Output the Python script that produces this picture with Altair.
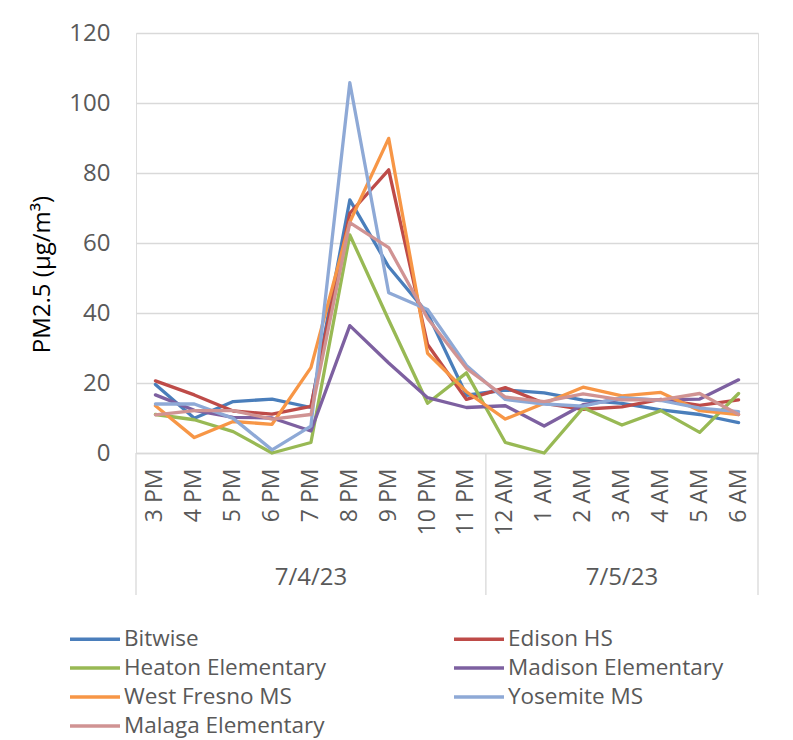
import altair as alt
import pandas as pd

times = ["3 PM", "4 PM", "5 PM", "6 PM", "7 PM", "8 PM", "9 PM", "10 PM", "11 PM",
         "12 AM", "1 AM", "2 AM", "3 AM", "4 AM", "5 AM", "6 AM"]
dates = ["7/4/23"] * 9 + ["7/5/23"] * 7

series = ["Bitwise", "Edison HS", "Heaton Elementary", "Madison Elementary",
          "West Fresno MS", "Yosemite MS", "Malaga Elementary"]
colors = ["#4A7EBB", "#BE4B48", "#98B954", "#7D60A0", "#F79646", "#8EA9D6", "#D09393"]

bitwise = [19.6, 9.9, 14.7, 15.4, 13.0, 72.3, 53.2, 39.9, 16.5, 18.0, 17.2, 15.1, 14.2, 12.3, 11.0, 8.7]
edison = [20.6, 16.6, 12.0, 11.1, 13.3, 68.5, 80.9, 31.0, 15.3, 18.7, 14.2, 12.5, 13.2, 15.3, 13.6, 15.2]
heaton = [11.0, 9.5, 6.1, 0.0, 3.0, 62.3, 38.0, 14.2, 22.9, 3.0, 0.0, 12.9, 8.0, 12.1, 5.9, 17.0]
madison = [16.6, 12.2, 10.2, 10.0, 6.3, 36.4, 25.7, 15.8, 13.0, 13.5, 7.7, 13.8, 15.5, 15.2, 15.4, 20.9]
westfresno = [13.5, 4.4, 9.0, 8.2, 24.4, 66.0, 89.9, 28.5, 17.5, 9.7, 14.2, 18.8, 16.3, 17.3, 12.1, 11.0]
yosemite = [14.0, 14.0, 9.9, 0.9, 7.7, 105.8, 45.8, 41.0, 25.0, 15.3, 14.0, 13.4, 15.8, 15.0, 12.8, 11.8]
malaga = [10.9, 12.1, 12.1, 9.7, 11.0, 65.8, 58.7, 38.5, 24.2, 16.0, 14.7, 16.9, 15.2, 15.2, 17.0, 11.0]

y_ticks = [0, 20, 40, 60, 80, 100, 120]

values = dict(zip(series, [bitwise, edison, heaton, madison, westfresno, yosemite, malaga]))
rows = []
for s in series:
    for t, v in zip(times, values[s]):
        rows.append({"time": t, "site": s, "pm": v})
df = pd.DataFrame(rows)

# date group labels and separator positions
groups, starts, ends = [], [], []
for d in dict.fromkeys(dates):
    ids = [i for i, dd in enumerate(dates) if dd == d]
    groups.append({"date": d, "time": times[(ids[0] + ids[-1]) // 2]})
    starts.append(times[ids[0]])
    ends.append(times[ids[-1]])
gdf = pd.DataFrame(groups)
start_df = pd.DataFrame({"time": starts})
end_df = pd.DataFrame({"time": ends[-1:]})

# legend fills column-first in Vega: reorder so it reads row-wise like the reference
legend_order = series[0::2] + series[1::2]
color_map = dict(zip(series, colors))
legend_colors = [color_map[s] for s in legend_order]

FONT = "Open Sans"
GRAY = "#595959"
GRID = "#D9D9D9"

x_scale = alt.Scale(type="band", domain=times, paddingInner=0, paddingOuter=0)
x_axis = alt.Axis(labelAngle=270, labelPadding=15, ticks=False, grid=False,
                  domainColor=GRID, domainWidth=1.3, labelFontSize=23, labelColor=GRAY,
                  labelFont=FONT, title=None)

lines = alt.Chart(df).mark_line(strokeWidth=3.3, strokeCap="round", strokeJoin="round").encode(
    x=alt.X("time:N", scale=x_scale, bandPosition=0.5, axis=x_axis),
    y=alt.Y("pm:Q", scale=alt.Scale(domain=[0, 120], nice=False),
            axis=alt.Axis(values=y_ticks, grid=True, gridColor=GRID, gridWidth=1.3, domain=False,
                          ticks=False, labelPadding=26, labelFontSize=24, labelColor=GRAY,
                          labelFont=FONT, title="PM2.5 (µg/m³)", titleFont=FONT, titleFontSize=24,
                          titleFontWeight="normal", titleColor="#000000", titleX=-94, titleY=241,
                          titleAlign="center", titleBaseline="middle", titleAngle=270)),
    color=alt.Color("site:N", scale=alt.Scale(domain=legend_order, range=legend_colors),
                    legend=alt.Legend(title=None, orient="none", legendX=-68, legendY=594,
                                      columns=2, columnPadding=121, rowPadding=5,
                                      symbolType="M-1,0H4.0", symbolSize=400, symbolStrokeWidth=3.5,
                                      labelFontSize=22.5, labelColor=GRAY, labelFont=FONT,
                                      labelOffset=32, labelLimit=400)),
    order=alt.Order("site_order:Q"),
).transform_calculate(site_order="indexof(" + str(series) + ", datum.site)")

date_text = alt.Chart(gdf).mark_text(fontSize=24, color=GRAY, font=FONT, baseline="middle").encode(
    x=alt.X("time:N", scale=x_scale, bandPosition=0.5, axis=x_axis),
    y=alt.value(545),
    text="date:N",
)

sep_start = alt.Chart(start_df).mark_rule(color=GRID, strokeWidth=1.3).encode(
    x=alt.X("time:N", scale=x_scale, bandPosition=0, axis=x_axis),
    y=alt.value(420),
    y2=alt.value(562),
)
sep_end = alt.Chart(end_df).mark_rule(color=GRID, strokeWidth=1.3).encode(
    x=alt.X("time:N", scale=x_scale, bandPosition=1, axis=x_axis),
    y=alt.value(420),
    y2=alt.value(562),
)

chart = alt.layer(lines, sep_start, sep_end, date_text).properties(
    width=622, height=420,
    autosize=alt.AutoSizeParams(type="none"),
    padding={"left": 128, "top": 25, "right": 27, "bottom": 287},
).configure_view(stroke=None).configure(font=FONT)

chart.save("out.html", embed_options={"renderer": "svg", "actions": False})
